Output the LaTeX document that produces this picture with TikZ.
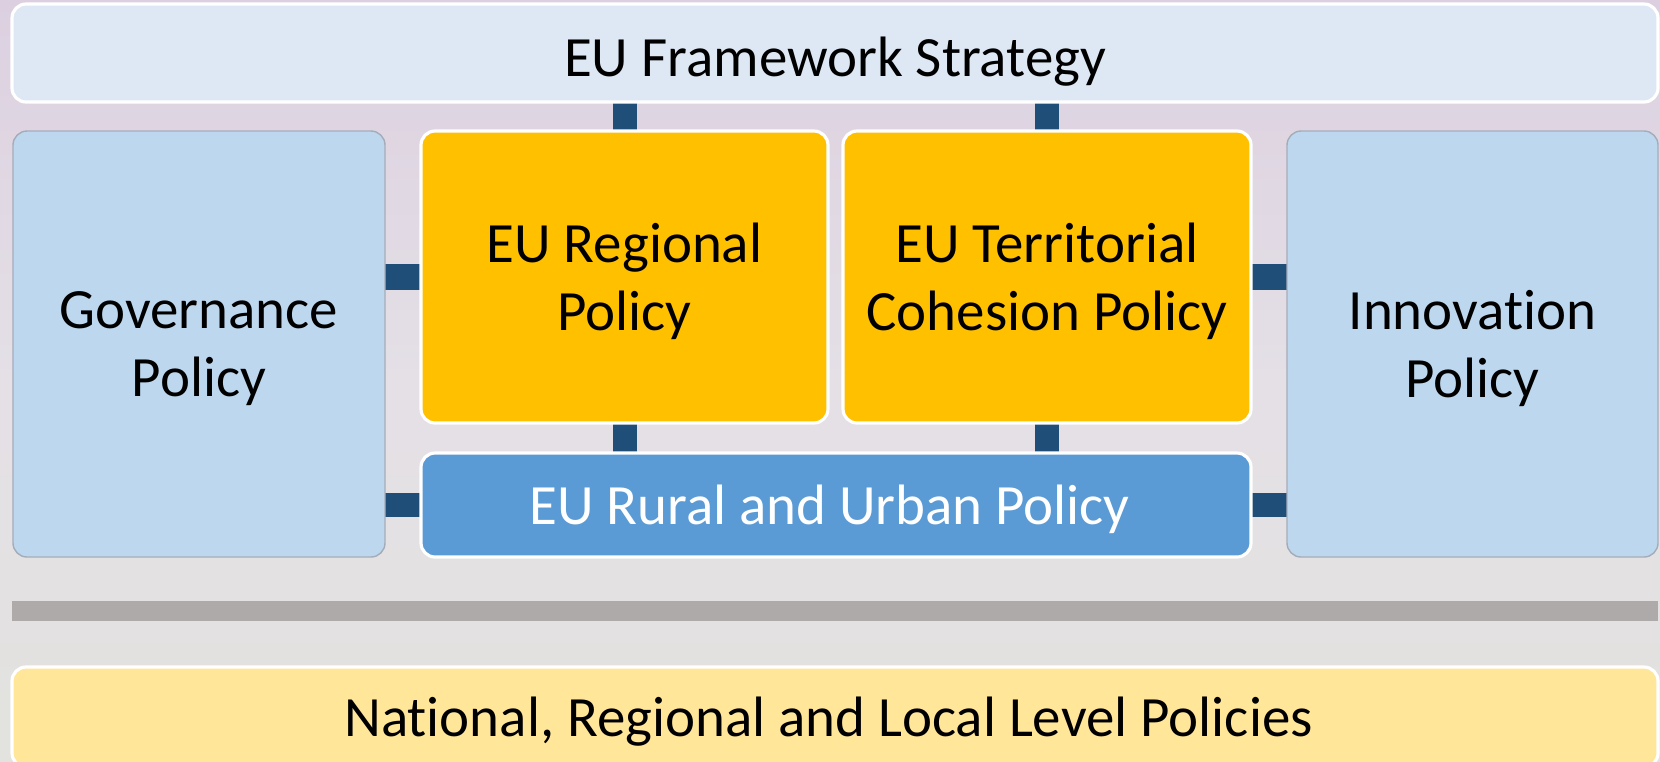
\documentclass[tikz,border=0pt]{standalone}
\usepackage{fontspec}
\setmainfont{Carlito}[Ligatures=NoCommon]
\usetikzlibrary{
  positioning,
  backgrounds
}
\definecolor{bgtop}{RGB}{220, 208, 224}
\definecolor{bgmid}{RGB}{228, 224, 230}
\definecolor{bgbottom}{RGB}{226, 226, 222}
\definecolor{framecolor}{RGB}{221, 232, 244}
\definecolor{sidecolor}{RGB}{189, 215, 238}
\definecolor{sideedge}{RGB}{165, 172, 185}
\definecolor{corecolor}{RGB}{255, 192, 0}
\definecolor{ruralcolor}{RGB}{91, 155, 213}
\definecolor{linkcolor}{RGB}{31, 78, 121}
\definecolor{dividercolor}{RGB}{174, 170, 170}
\definecolor{nationalcolor}{RGB}{255, 230, 153}
\tikzset{
blocktext/.style={
  align=center,
  font=\fontsize{16.2}{19.4}\selectfont,
  text=black,
  text depth=0pt,
  inner sep=0pt,
  outer sep=0pt
},
whiteblock/.style={
  draw=white,
  line width=0.9pt,
  rounded corners=4pt,
  blocktext
},
frameblock/.style={
  whiteblock,
  fill=framecolor,
  text height=13.4pt,
  minimum width=16.46cm,
  minimum height=0.98cm
},
sideblock/.style={
  draw=sideedge,
  line width=0.4pt,
  rounded corners=4pt,
  fill=sidecolor,
  minimum width=3.72cm,
  minimum height=4.26cm,
  blocktext
},
coreblock/.style={
  whiteblock,
  fill=corecolor,
  minimum width=4.07cm,
  minimum height=2.92cm
},
ruralblock/.style={
  whiteblock,
  fill=ruralcolor,
  text=white,
  minimum width=8.30cm,
  minimum height=1.04cm
},
nationalblock/.style={
  whiteblock,
  fill=nationalcolor,
  minimum width=16.46cm,
  minimum height=1.0cm
},
divider/.style={
  fill=dividercolor,
  minimum width=16.46cm,
  minimum height=0.20cm,
  inner sep=0pt,
  outer sep=0pt
},
link/.style={
  draw=linkcolor,
  line width=0.24cm
}
}

\begin{document}
\begin{tikzpicture}
      \useasboundingbox (0,0) rectangle (16.6,-7.61);
      \clip (0,0) rectangle (16.6,-7.61);

      % Framework strategy on top
      \node[frameblock] (frame) at (8.35,-0.53) {EU Framework Strategy};

      % Side policies
      \node[sideblock, below right=0.29cm and 0.01cm of frame.south west] (governance) {
        Governance\\Policy
      };

      % Regional and territorial policies
      \node[coreblock, right=0.36cm of governance.north east, anchor=north west] (regional) {
        EU Regional\\Policy
      };
      \node[coreblock, right=0.15cm of regional, minimum width=4.08cm] (territorial) {
        EU Territorial\\Cohesion Policy
      };

      \node[sideblock, right=0.36cm of territorial.north east, anchor=north west, minimum width=3.71cm] (innovation) {
        Innovation\\Policy
      };

      % Rural and urban policy below
      \node[ruralblock, below right=0.30cm and 0cm of regional.south west] (rural) {
        EU Rural and Urban Policy
      };

      % Divider and lower level
      \node[divider, below right=0.44cm and -0.01cm of governance.south west] (bar) {};
      \node[nationalblock, below right=0.46cm and 0cm of bar.south west] (national) {
        National, Regional and Local Level Policies
      };

      \begin{pgfonlayer}{background}
        % Backdrop
        \fill[top color=bgtop, bottom color=bgbottom, middle color=bgmid]
          (0,0) rectangle (16.6,-7.61);

        % Links
        \draw[link] (regional.north) -- (regional.north |- frame.south);
        \draw[link] (territorial.north) -- (territorial.north |- frame.south);
        \draw[link] (regional.south) -- (regional.south |- rural.north);
        \draw[link] (territorial.south) -- (territorial.south |- rural.north);
        \draw[link, line width=0.26cm] (regional.west) -- (regional.west -| governance.east);
        \draw[link, line width=0.26cm] (territorial.east) -- (territorial.east -| innovation.west);
        \draw[link] (rural.west) -- (rural.west -| governance.east);
        \draw[link] (rural.east) -- (rural.east -| innovation.west);
      \end{pgfonlayer}
    \end{tikzpicture}
\end{document}
